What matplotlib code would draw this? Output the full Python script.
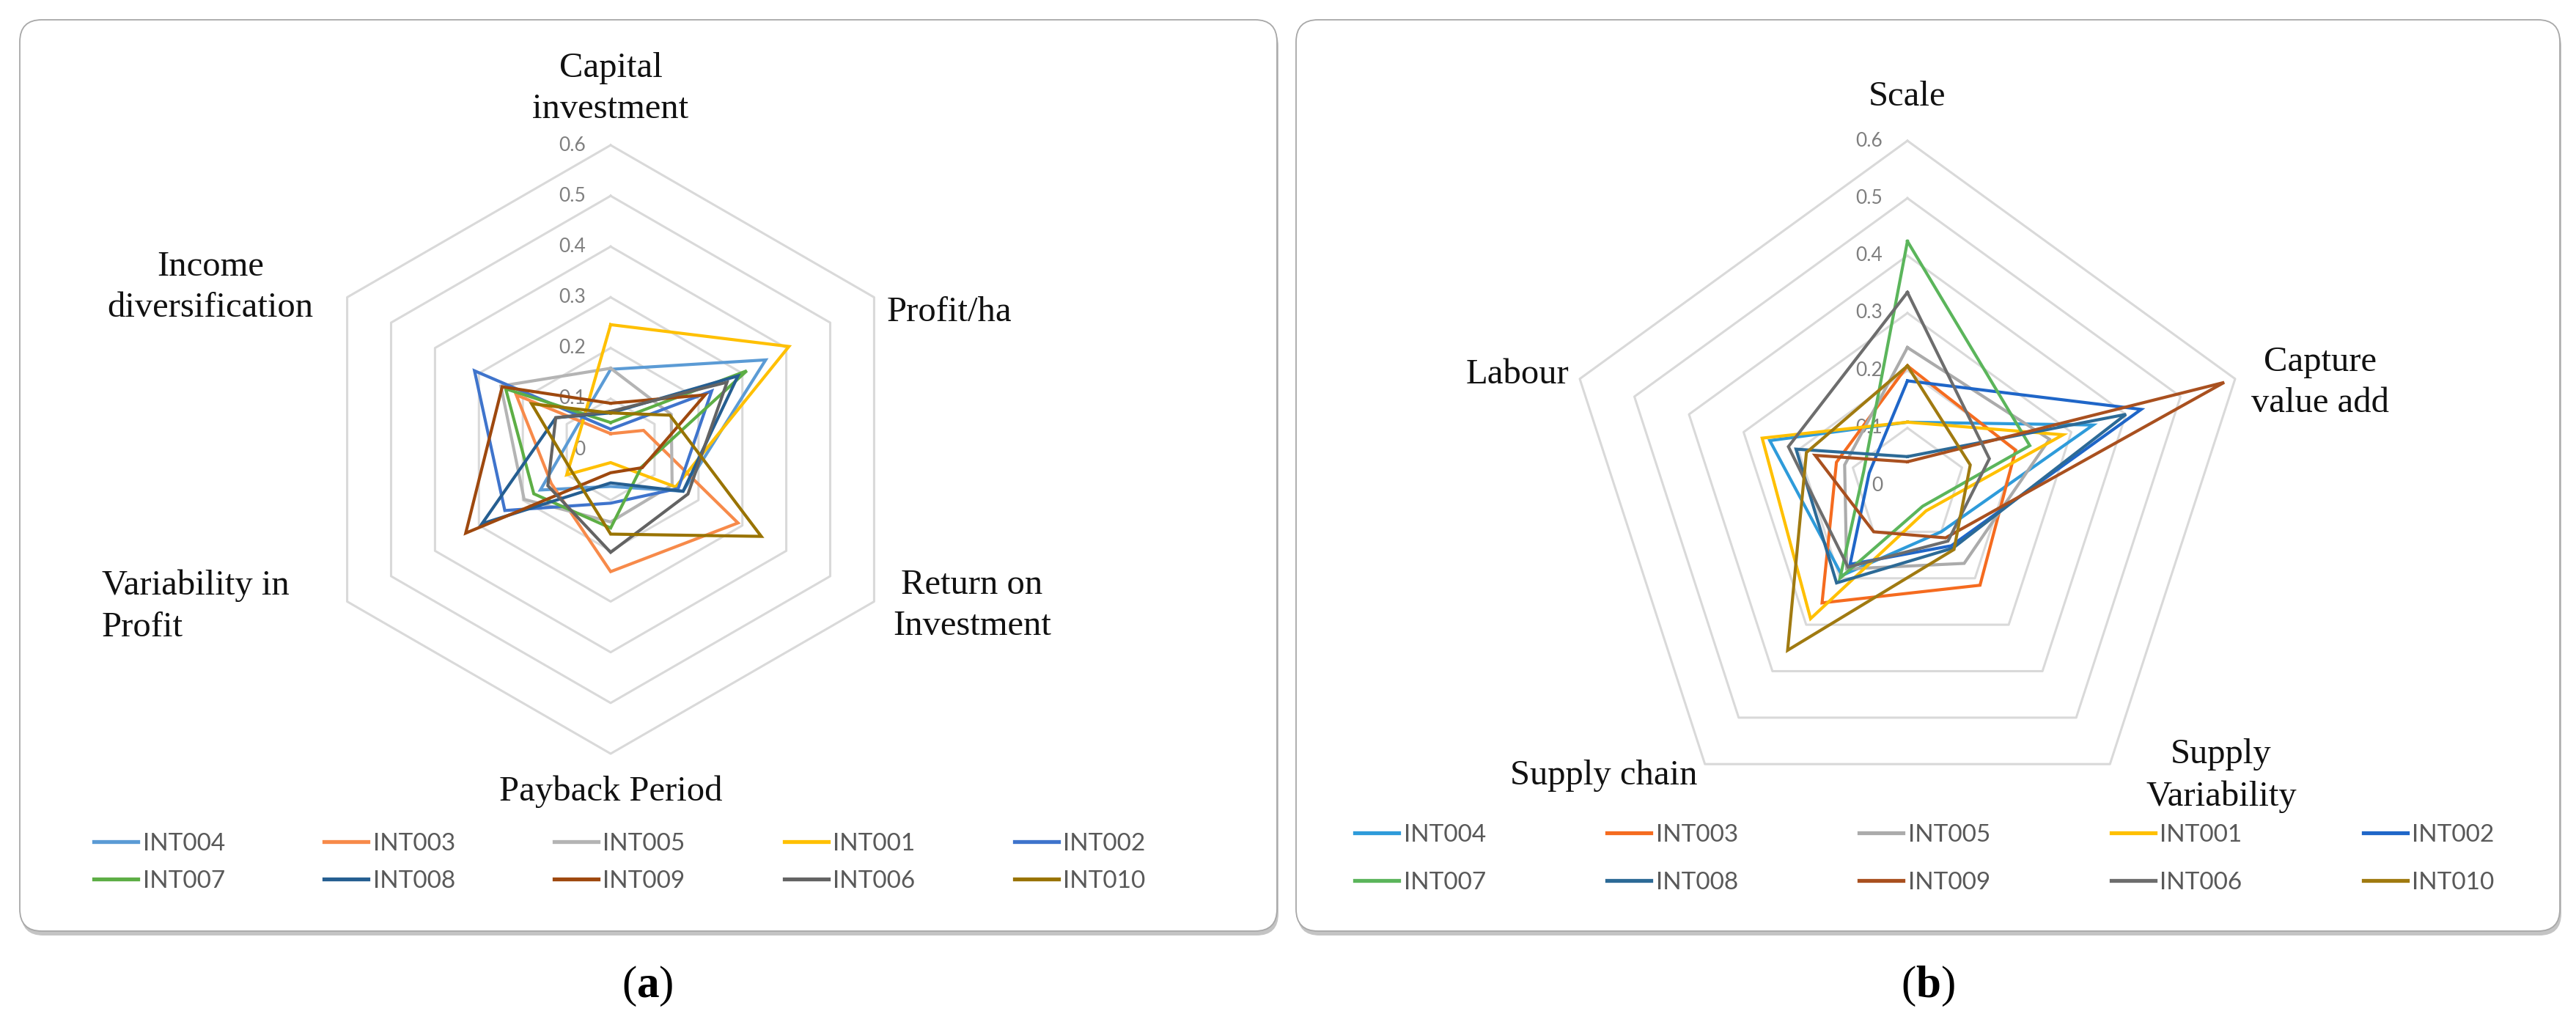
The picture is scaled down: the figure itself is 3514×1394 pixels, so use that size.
import matplotlib
matplotlib.use("Agg")
import matplotlib.pyplot as plt
import numpy as np
from matplotlib.patches import FancyBboxPatch
from matplotlib.lines import Line2D

plt.rcParams['mathtext.fontset'] = 'custom'
plt.rcParams['mathtext.rm'] = 'Liberation Serif'
plt.rcParams['mathtext.bf'] = 'Liberation Serif:bold'

W, H = 3514, 1394

series = ['INT004', 'INT003', 'INT005', 'INT001', 'INT002',
          'INT007', 'INT008', 'INT009', 'INT006', 'INT010']
ticks = [0, 0.1, 0.2, 0.3, 0.4, 0.5, 0.6]

# (a) financial indicators
axes_a = ['Capital\ninvestment', 'Profit/ha', 'Return on\nInvestment',
          'Payback Period', 'Variability in\nProfit', 'Income\ndiversification']
a_int004 = [0.158, 0.353, 0.165, 0.073, 0.160, 0.080]
a_int003 = [0.031, 0.075, 0.290, 0.241, 0.135, 0.215]
a_int005 = [0.160, 0.138, 0.140, 0.143, 0.197, 0.250]
a_int001 = [0.246, 0.406, 0.148, 0.026, 0.100, 0.070]
a_int002 = [0.040, 0.230, 0.154, 0.106, 0.241, 0.310]
a_int007 = [0.053, 0.310, 0.070, 0.155, 0.175, 0.239]
a_int008 = [0.072, 0.290, 0.165, 0.066, 0.293, 0.125]
a_int009 = [0.091, 0.215, 0.072, 0.046, 0.330, 0.247]
a_int006 = [0.075, 0.265, 0.176, 0.203, 0.143, 0.125]
a_int010 = [0.072, 0.135, 0.343, 0.167, 0.088, 0.180]

# (b) chain / scale indicators
axes_b = ['Scale', 'Capture\nvalue add', 'Supply\nVariability', 'Supply chain', 'Labour']
b_int004 = [0.110, 0.340, 0.100, 0.194, 0.252]
b_int003 = [0.208, 0.198, 0.215, 0.253, 0.130]
b_int005 = [0.240, 0.260, 0.168, 0.180, 0.115]
b_int001 = [0.110, 0.285, 0.055, 0.287, 0.266]
b_int002 = [0.182, 0.428, 0.130, 0.170, 0.070]
b_int007 = [0.425, 0.224, 0.045, 0.200, 0.080]
b_int008 = [0.050, 0.400, 0.135, 0.210, 0.204]
b_int009 = [0.041, 0.580, 0.113, 0.100, 0.169]
b_int006 = [0.336, 0.150, 0.120, 0.176, 0.218]
b_int010 = [0.208, 0.115, 0.138, 0.355, 0.185]

data_a = [a_int004, a_int003, a_int005, a_int001, a_int002,
          a_int007, a_int008, a_int009, a_int006, a_int010]
data_b = [b_int004, b_int003, b_int005, b_int001, b_int002,
          b_int007, b_int008, b_int009, b_int006, b_int010]

colors_a = ['#5B9BD5', '#F78A4A', '#B4B4B4', '#FFC000', '#3F74CC',
            '#5DAE45', '#255E91', '#9E480E', '#636363', '#997300']
colors_b = ['#2E9BDA', '#F56B1F', '#ABABAB', '#FFC000', '#1F66C8',
            '#5BB55B', '#2C6A96', '#A9501F', '#6D6D6D', '#A07A10']

SERIF = 'Liberation Serif'
SANS = ['Lato', 'DejaVu Sans']

fig = plt.figure(figsize=(W / 100, H / 100), dpi=100)
bg = fig.add_axes([0, 0, 1, 1])
bg.set_xlim(0, W)
bg.set_ylim(H, 0)
bg.axis('off')


def panel_box(x0, y0, x1, y1):
    sh = FancyBboxPatch((x0 + 2, y0 + 6), x1 - x0, y1 - y0,
                        boxstyle='round,pad=0,rounding_size=30',
                        fc='#c4c4c4', ec='none', zorder=0)
    box = FancyBboxPatch((x0, y0), x1 - x0, y1 - y0,
                         boxstyle='round,pad=0,rounding_size=30',
                         fc='white', ec='#a8a8a8', lw=1.3, zorder=1)
    bg.add_patch(sh)
    bg.add_patch(box)


def radar(cx, cy, R, data, colors):
    s = R / 0.6
    half = 560
    ax = fig.add_axes([(cx - half) / W, (H - cy - half) / H, 2 * half / W, 2 * half / H])
    lim = half / s
    ax.set_xlim(-lim, lim)
    ax.set_ylim(-lim, lim)
    ax.axis('off')
    n = len(data[0])
    ang = np.arange(n + 1) * 2 * np.pi / n
    for t in ticks[1:]:
        ax.plot(t * np.sin(ang), t * np.cos(ang), color='#d9d9d9', lw=2.2, zorder=1)
    for t in ticks:
        ax.text(-34 / s, t, f'{t:g}', ha='right', va='center', fontsize=19,
                color='#7f7f7f', family=SANS, zorder=2)
    for vals, c in zip(data, colors):
        v = np.array(vals + vals[:1])
        ax.plot(v * np.sin(ang), v * np.cos(ang), color=c, lw=3.0, zorder=3,
                solid_joinstyle='miter')
    return ax


panel_box(27, 27, 1742, 1270)
panel_box(1768, 27, 3492, 1270)

radar(833, 613, 415, data_a, colors_a)
radar(2602, 662, 470, data_b, colors_b)

lab = dict(fontsize=35, family=SERIF, color='#111111', linespacing=1.38, zorder=5)
# panel (a) category labels
bg.text(833, 121, axes_a[0], ha='center', va='center', **lab)
bg.text(1210, 426, axes_a[1], ha='left', va='center', **lab)
bg.text(1326, 826, axes_a[2], ha='center', va='center', multialignment='center', **lab)
bg.text(833, 1080, axes_a[3], ha='center', va='center', **lab)
bg.text(139, 827, axes_a[4], ha='left', va='center', multialignment='left', **lab)
bg.text(287, 392, axes_a[5], ha='center', va='center', multialignment='center', **lab)
# panel (b) category labels
bg.text(2602, 132, axes_b[0], ha='center', va='center', **lab)
bg.text(3165, 522, axes_b[1], ha='center', va='center', multialignment='center', **lab)
bg.text(3030, 1058, axes_b[2], ha='center', va='center', multialignment='center', **lab)
bg.text(2315, 1058, axes_b[3], ha='right', va='center', **lab)
bg.text(2140, 511, axes_b[4], ha='right', va='center', **lab)

# captions
bg.text(883, 1345, r'($\mathbf{a}$)', ha='center', va='center', fontsize=44, family=SERIF)
bg.text(2630, 1345, r'($\mathbf{b}$)', ha='center', va='center', fontsize=44, family=SERIF)


def legend(colors, x, y, colsp, rowsp):
    hs = [Line2D([], [], color=c, lw=3.8) for c in colors]
    order = [0, 5, 1, 6, 2, 7, 3, 8, 4, 9]
    leg = bg.legend([hs[i] for i in order], [series[i] for i in order], ncol=5,
                    loc='upper left', bbox_to_anchor=(x / W, 1 - y / H),
                    bbox_transform=fig.transFigure, frameon=False,
                    prop={'family': SANS, 'size': 24}, labelcolor='#595959',
                    handlelength=1.8, handletextpad=0.2, columnspacing=colsp,
                    labelspacing=rowsp, borderpad=0, borderaxespad=0)
    return leg


bg.add_artist(legend(colors_a, 128, 1136, 4.05, 0.62))
legend(colors_b, 1848, 1124, 4.95, 1.04)

fig.savefig('out.png', dpi=100, facecolor='white')
